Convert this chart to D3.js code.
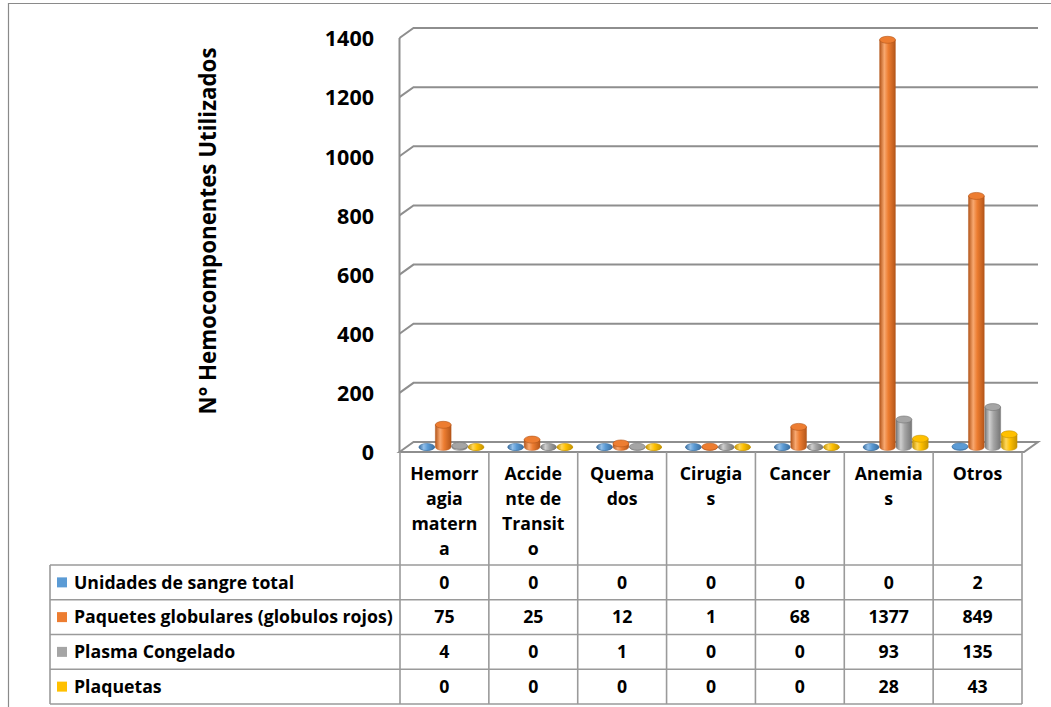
<!DOCTYPE html>
<html>
<head>
<meta charset="utf-8">
<script src="https://cdn.jsdelivr.net/npm/d3@7"></script>
<style>
  html, body { margin: 0; padding: 0; background: #fff; }
  svg text { font-family: "Open Sans", Lato, sans-serif; font-weight: bold; fill: #000; }
</style>
</head>
<body>
<svg id="chart" width="1051" height="707"></svg>
<script>
// Categories (causes) and the wrapped lines shown in the table header
const categories = ["Hemorragia materna", "Accidente de Transito", "Quemados", "Cirugias", "Cancer", "Anemias", "Otros"];
const categoryLines = [
  ["Hemorr", "agia", "matern", "a"],
  ["Accide", "nte de", "Transit", "o"],
  ["Quema", "dos"],
  ["Cirugia", "s"],
  ["Cancer"],
  ["Anemia", "s"],
  ["Otros"]
];

// Series names and values per category
const seriesNames = ["Unidades de sangre total", "Paquetes globulares (globulos rojos)", "Plasma Congelado", "Plaquetas"];
const unidadesSangre = [0, 0, 0, 0, 0, 0, 2];
const paquetesGlobulares = [75, 25, 12, 1, 68, 1377, 849];
const plasmaCongelado = [4, 0, 1, 0, 0, 93, 135];
const plaquetas = [0, 0, 0, 0, 0, 28, 43];
const seriesValues = [unidadesSangre, paquetesGlobulares, plasmaCongelado, plaquetas];

// Axis ticks and title
const yTicks = [0, 200, 400, 600, 800, 1000, 1200, 1400];
const yTitle = "N° Hemocomponentes Utilizados";

// Palette: base, dark edge, highlight
const palette = [
  { base: "#5B9BD5", dark: "#3A6EA0", light: "#93C0EA" },
  { base: "#ED7D31", dark: "#B4561A", light: "#F8A870" },
  { base: "#A5A5A5", dark: "#767676", light: "#CFCFCF" },
  { base: "#FFC000", dark: "#C49200", light: "#FFD75A" }
];

const svg = d3.select("#chart");
const gridColor = "#8E8E8E";
const tableColor = "#9A9A9A";
const textSize = "17.7px";

// 3D depth of the plot box
const depthX = 14, depthY = -10;

// Scales (front plane)
const x = d3.scaleBand().domain(categories).range([400, 1022]).padding(0);
const y = d3.scaleLinear().domain([0, 1400]).range([452, 38]);
const groupWidth = 65.6;
const xs = d3.scaleBand().domain(d3.range(seriesNames.length)).range([-groupWidth / 2, groupWidth / 2]);

// Outer frame
svg.append("path")
  .attr("d", "M8.5,707 L8.5,3.5 L1051,3.5")
  .attr("fill", "none").attr("stroke", "#8A8A8A").attr("stroke-width", 1.2);

// Gradients for cylinder shading
const defs = svg.append("defs");
palette.forEach((c, i) => {
  const g = defs.append("linearGradient").attr("id", "cyl" + i)
    .attr("x1", "0%").attr("x2", "100%").attr("y1", "0%").attr("y2", "0%");
  g.append("stop").attr("offset", "0%").attr("stop-color", c.dark);
  g.append("stop").attr("offset", "30%").attr("stop-color", c.light);
  g.append("stop").attr("offset", "55%").attr("stop-color", c.base);
  g.append("stop").attr("offset", "100%").attr("stop-color", c.dark);
});

// Gridlines on the back wall with the short diagonal on the side wall
const xLeft = x.range()[0] - 0.5, xRight = x.range()[1] + 2;
svg.append("g").selectAll("path").data(yTicks.filter(t => t > 0)).join("path")
  .attr("d", t => `M${xLeft},${y(t)} L${xLeft + depthX},${y(t) + depthY} L${xRight + depthX},${y(t) + depthY}`)
  .attr("fill", "none").attr("stroke", gridColor).attr("stroke-width", 2);

// Floor
svg.append("path")
  .attr("d", `M${xLeft},${y(0)} L${xLeft + depthX},${y(0) + depthY} L${xRight + depthX},${y(0) + depthY} L${xRight},${y(0)} Z`)
  .attr("fill", "none").attr("stroke", gridColor).attr("stroke-width", 2);

// Side wall front edge (value axis)
svg.append("line")
  .attr("x1", xLeft).attr("x2", xLeft).attr("y1", y(1400)).attr("y2", y(0))
  .attr("stroke", gridColor).attr("stroke-width", 2);

// Value axis labels
const yAxis = d3.axisLeft(y).tickValues(yTicks).tickSize(0).tickPadding(0).tickFormat(d3.format("d"));
const axisG = svg.append("g").attr("transform", "translate(374,0)").call(yAxis);
axisG.select(".domain").remove();
axisG.selectAll("text")
  .style("font-family", "'Open Sans', sans-serif").style("font-weight", "bold")
  .style("font-size", "21.5px").attr("fill", "#000").attr("dy", "0.36em");

// Axis title
svg.append("text")
  .attr("transform", "translate(216,231) rotate(-90)")
  .attr("text-anchor", "middle")
  .style("font-size", "22.3px")
  .text(yTitle);

// Cylinders, drawn on the middle depth plane
const midX = depthX / 2, midY = depthY / 2;
const bw = xs.bandwidth();
const ry = 3.5;
const cylData = [];
categories.forEach((cat, ci) => {
  seriesValues.forEach((vals, si) => {
    cylData.push({ ci, si, v: vals[ci], cat });
  });
});
const cyl = svg.append("g").selectAll("g").data(cylData).join("g");
cyl.each(function (d) {
  const g = d3.select(this);
  const cx = x(d.cat) + x.bandwidth() / 2 + midX + xs(d.si) + bw / 2;
  const rx = bw / 2 - 0.3;
  const yb = y(0) + midY;
  const yt = y(d.v) + midY;
  const c = palette[d.si];
  g.append("path")
    .attr("d", `M${cx - rx},${yt} L${cx - rx},${yb} A${rx},${ry} 0 0 0 ${cx + rx},${yb} L${cx + rx},${yt} Z`)
    .attr("fill", `url(#cyl${d.si})`)
    .attr("stroke", c.dark).attr("stroke-width", 0.4);
  g.append("ellipse")
    .attr("cx", cx).attr("cy", yt).attr("rx", rx).attr("ry", ry)
    .attr("fill", d.v > 0 ? c.base : `url(#cyl${d.si})`)
    .attr("stroke", c.dark).attr("stroke-width", 0.6);
});

// Data table
const tableLeft = 50, rowTop = 565, rowH = 34.75, headerTop = y(0);
const tableRight = x.range()[1];
const nRows = seriesNames.length;
const tableBottom = rowTop + nRows * rowH;
const tg = svg.append("g").attr("stroke", tableColor).attr("stroke-width", 1.6);

// Horizontal rules
d3.range(nRows + 1).forEach(r => {
  tg.append("line")
    .attr("x1", tableLeft).attr("x2", tableRight)
    .attr("y1", rowTop + r * rowH).attr("y2", rowTop + r * rowH);
});
// Column rules
categories.concat(["end"]).forEach((cat, i) => {
  const xx = i < categories.length ? x(cat) : tableRight;
  tg.append("line").attr("x1", xx).attr("x2", xx).attr("y1", headerTop).attr("y2", tableBottom);
});
tg.append("line").attr("x1", tableLeft).attr("x2", tableLeft).attr("y1", rowTop).attr("y2", tableBottom);

// Category headers
categories.forEach((cat, i) => {
  const t = svg.append("text")
    .attr("x", x(cat) + x.bandwidth() / 2)
    .attr("y", 480)
    .attr("text-anchor", "middle")
    .style("font-size", textSize);
  categoryLines[i].forEach((ln, k) => {
    t.append("tspan").attr("x", x(cat) + x.bandwidth() / 2).attr("dy", k === 0 ? 0 : 25).text(ln);
  });
});

// Legend keys and series names
seriesNames.forEach((name, r) => {
  const cy = rowTop + r * rowH + rowH / 2;
  svg.append("rect")
    .attr("x", 57).attr("y", cy - 5).attr("width", 10).attr("height", 10)
    .attr("fill", palette[r].base);
  svg.append("text")
    .attr("x", 74).attr("y", cy).attr("dy", "0.36em")
    .style("font-size", textSize)
    .text(name);
});

// Values
seriesValues.forEach((vals, r) => {
  const cy = rowTop + r * rowH + rowH / 2;
  vals.forEach((v, ci) => {
    svg.append("text")
      .attr("x", x(categories[ci]) + x.bandwidth() / 2).attr("y", cy).attr("dy", "0.36em")
      .attr("text-anchor", "middle")
      .style("font-size", textSize)
      .text(v);
  });
});
</script>
</body>
</html>
